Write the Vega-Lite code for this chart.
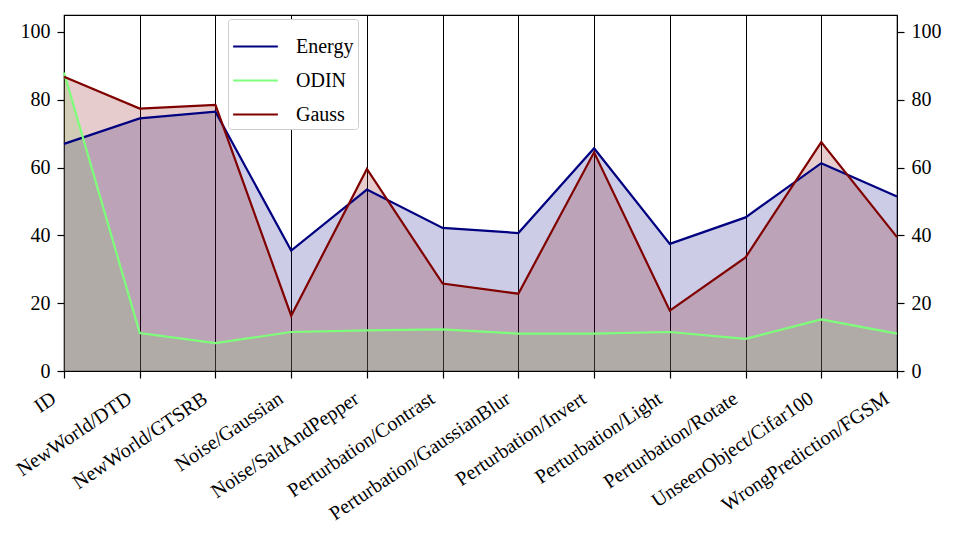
{
  "$schema": "https://vega.github.io/schema/vega-lite/v6.json",
  "width": 833,
  "height": 356,
  "autosize": {"type": "none"},
  "padding": {"left": 64, "top": 15, "right": 60, "bottom": 171},
  "background": "white",
  "config": {
    "font": "Liberation Serif",
    "view": {"stroke": "black", "strokeWidth": 1.2},
    "axis": {"labelFont": "Liberation Serif", "labelFontSize": 20, "labelColor": "black", "tickColor": "black", "domainColor": "black", "tickSize": 7, "tickWidth": 1.2, "labelPadding": 4}
  },
  "data": {
    "values": [
      {"dataset": "ID", "method": "Energy", "value": 67},
      {"dataset": "NewWorld/DTD", "method": "Energy", "value": 74.5},
      {"dataset": "NewWorld/GTSRB", "method": "Energy", "value": 76.5},
      {"dataset": "Noise/Gaussian", "method": "Energy", "value": 35.5},
      {"dataset": "Noise/SaltAndPepper", "method": "Energy", "value": 53.5},
      {"dataset": "Perturbation/Contrast", "method": "Energy", "value": 42.2},
      {"dataset": "Perturbation/GaussianBlur", "method": "Energy", "value": 40.7},
      {"dataset": "Perturbation/Invert", "method": "Energy", "value": 65.7},
      {"dataset": "Perturbation/Light", "method": "Energy", "value": 37.5},
      {"dataset": "Perturbation/Rotate", "method": "Energy", "value": 45.3},
      {"dataset": "UnseenObject/Cifar100", "method": "Energy", "value": 61.3},
      {"dataset": "WrongPrediction/FGSM", "method": "Energy", "value": 51.5},
      {"dataset": "ID", "method": "ODIN", "value": 88},
      {"dataset": "NewWorld/DTD", "method": "ODIN", "value": 11.2},
      {"dataset": "NewWorld/GTSRB", "method": "ODIN", "value": 8.2},
      {"dataset": "Noise/Gaussian", "method": "ODIN", "value": 11.5},
      {"dataset": "Noise/SaltAndPepper", "method": "ODIN", "value": 12},
      {"dataset": "Perturbation/Contrast", "method": "ODIN", "value": 12.3},
      {"dataset": "Perturbation/GaussianBlur", "method": "ODIN", "value": 11},
      {"dataset": "Perturbation/Invert", "method": "ODIN", "value": 11},
      {"dataset": "Perturbation/Light", "method": "ODIN", "value": 11.5},
      {"dataset": "Perturbation/Rotate", "method": "ODIN", "value": 9.5},
      {"dataset": "UnseenObject/Cifar100", "method": "ODIN", "value": 15.2},
      {"dataset": "WrongPrediction/FGSM", "method": "ODIN", "value": 11},
      {"dataset": "ID", "method": "Gauss", "value": 86.8},
      {"dataset": "NewWorld/DTD", "method": "Gauss", "value": 77.4},
      {"dataset": "NewWorld/GTSRB", "method": "Gauss", "value": 78.5},
      {"dataset": "Noise/Gaussian", "method": "Gauss", "value": 16.3},
      {"dataset": "Noise/SaltAndPepper", "method": "Gauss", "value": 59.6},
      {"dataset": "Perturbation/Contrast", "method": "Gauss", "value": 25.8},
      {"dataset": "Perturbation/GaussianBlur", "method": "Gauss", "value": 22.8},
      {"dataset": "Perturbation/Invert", "method": "Gauss", "value": 64.5},
      {"dataset": "Perturbation/Light", "method": "Gauss", "value": 17.8},
      {"dataset": "Perturbation/Rotate", "method": "Gauss", "value": 33.5},
      {"dataset": "UnseenObject/Cifar100", "method": "Gauss", "value": 67.5},
      {"dataset": "WrongPrediction/FGSM", "method": "Gauss", "value": 39.5}
    ]
  },
  "encoding": {
    "x": {
      "field": "dataset", "type": "nominal", "sort": null,
      "scale": {"type": "point", "padding": 0},
      "axis": {"title": null, "labelAngle": -34, "labelAlign": "right", "labelBaseline": "top", "labelLimit": 0, "labelOffset": -16, "labelPadding": 10, "grid": true, "gridColor": "black", "gridWidth": 1, "gridOpacity": 1, "domain": false}
    }
  },
  "layer": [
    {
      "mark": {"type": "area", "fillOpacity": 0.2},
      "encoding": {
        "y": {"field": "value", "type": "quantitative", "stack": null, "scale": {"domain": [0, 105], "nice": false, "zero": true}, "axis": {"title": null, "orient": "left", "values": [0, 20, 40, 60, 80, 100], "grid": false, "domain": false, "labelPadding": 7}},
        "color": {
          "field": "method", "type": "nominal",
          "scale": {"domain": ["Energy", "ODIN", "Gauss"], "range": ["#000080", "#7dff7a", "#800000"]},
          "legend": {"title": null, "orient": "none", "legendX": 164, "legendY": 4, "symbolType": "stroke", "symbolStrokeWidth": 2.2, "symbolOpacity": 1, "symbolSize": 2000, "labelFontSize": 20, "labelFont": "Liberation Serif", "labelColor": "black", "rowPadding": -25, "padding": 4, "strokeColor": "#cccccc", "fillColor": "white", "cornerRadius": 3, "labelOffset": 17}
        }
      }
    },
    {
      "mark": {"type": "line", "strokeWidth": 2.2},
      "encoding": {
        "y": {"field": "value", "type": "quantitative", "scale": {"domain": [0, 105], "nice": false}, "axis": {"title": null, "orient": "right", "values": [0, 20, 40, 60, 80, 100], "grid": false, "domain": false, "labelPadding": 7}},
        "color": {
          "field": "method", "type": "nominal",
          "scale": {"domain": ["Energy", "ODIN", "Gauss"], "range": ["#000080", "#7dff7a", "#800000"]},
          "legend": {"title": null, "orient": "none", "legendX": 164, "legendY": 4, "symbolType": "stroke", "symbolStrokeWidth": 2.2, "symbolOpacity": 1, "symbolSize": 2000, "labelFontSize": 20, "labelFont": "Liberation Serif", "labelColor": "black", "rowPadding": -25, "padding": 4, "strokeColor": "#cccccc", "fillColor": "white", "cornerRadius": 3, "labelOffset": 17}
        }
      }
    }
  ],
  "resolve": {"axis": {"y": "independent"}}
}
